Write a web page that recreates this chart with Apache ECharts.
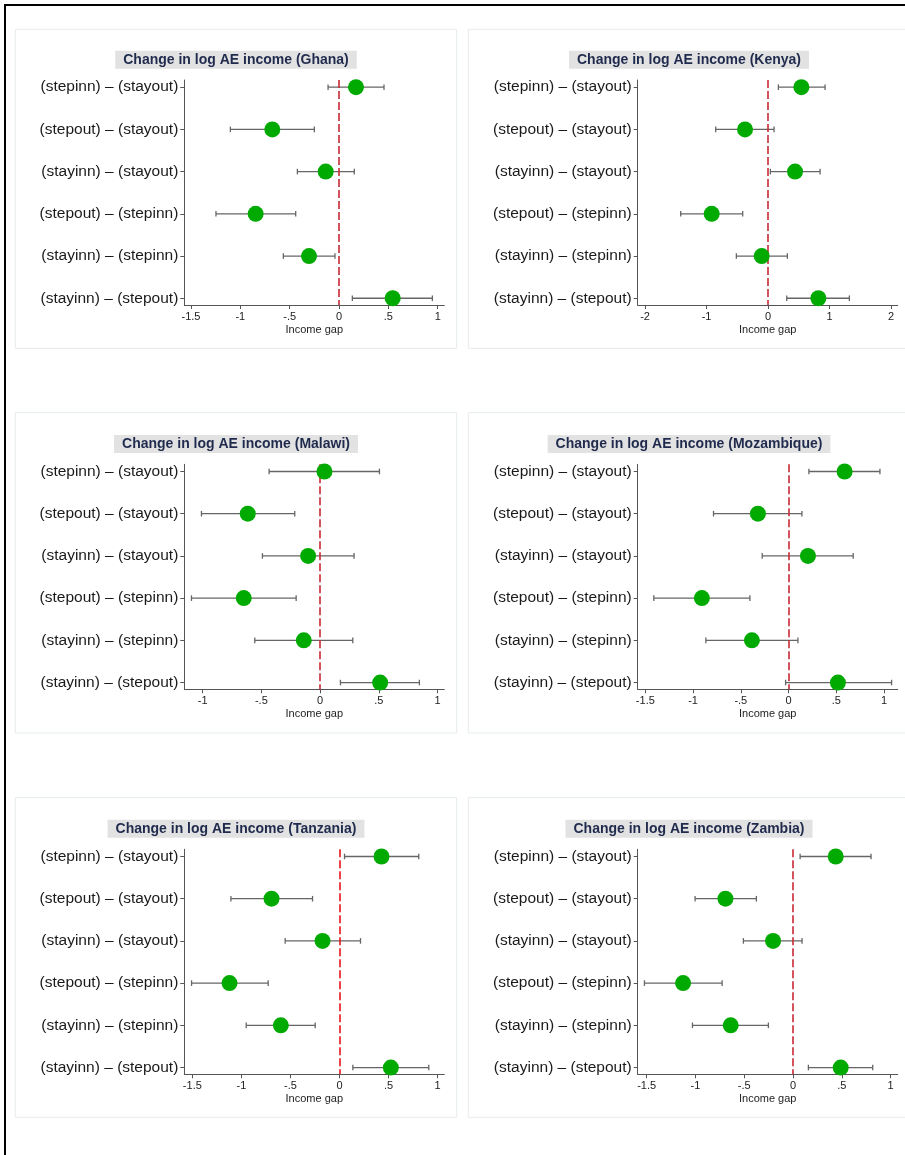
<!DOCTYPE html>
<html>
<head>
<meta charset="utf-8">
<script src="https://cdn.jsdelivr.net/npm/echarts@6/dist/echarts.min.js"></script>
<style>
html,body{margin:0;padding:0;background:#fff;}
#c{width:905px;height:1155px;}
</style>
</head>
<body>
<div id="c"></div>
<script>
// ---- data ----
const categories = [
  '(stepinn) \u2013 (stayout)',
  '(stepout) \u2013 (stayout)',
  '(stayinn) \u2013 (stayout)',
  '(stepout) \u2013 (stepinn)',
  '(stayinn) \u2013 (stepinn)',
  '(stayinn) \u2013 (stepout)'
];
const countries = ['Ghana', 'Kenya', 'Malawi', 'Mozambique', 'Tanzania', 'Zambia'];

const ghanaEst = [0.172, -0.676, -0.135, -0.845, -0.304, 0.544];
const ghanaLo  = [-0.111, -1.101, -0.422, -1.247, -0.564, 0.135];
const ghanaHi  = [0.456, -0.250, 0.155, -0.439, -0.041, 0.946];

const kenyaEst = [0.542, -0.374, 0.439, -0.916, -0.103, 0.818];
const kenyaLo  = [0.168, -0.851, 0.038, -1.420, -0.515, 0.304];
const kenyaHi  = [0.927, 0.098, 0.846, -0.412, 0.314, 1.322];

const malawiEst = [0.037, -0.616, -0.102, -0.650, -0.139, 0.511];
const malawiLo  = [-0.434, -1.010, -0.491, -1.095, -0.556, 0.173];
const malawiHi  = [0.505, -0.216, 0.289, -0.204, 0.278, 0.845];

const mozambiqueEst = [0.587, -0.321, 0.203, -0.908, -0.384, 0.517];
const mozambiqueLo  = [0.213, -0.786, -0.276, -1.411, -0.866, -0.031];
const mozambiqueHi  = [0.957, 0.140, 0.677, -0.405, 0.098, 1.079];

const tanzaniaEst = [0.428, -0.693, -0.173, -1.121, -0.598, 0.523];
const tanzaniaLo  = [0.051, -1.107, -0.554, -1.508, -0.951, 0.136];
const tanzaniaHi  = [0.808, -0.275, 0.214, -0.727, -0.248, 0.910];

const zambiaEst = [0.437, -0.693, -0.205, -1.127, -0.639, 0.488];
const zambiaLo  = [0.072, -1.004, -0.509, -1.523, -1.031, 0.157];
const zambiaHi  = [0.799, -0.376, 0.092, -0.727, -0.253, 0.816];

const ticks15 = [-1.5, -1, -0.5, 0, 0.5, 1];
const ticks2  = [-2, -1, 0, 1, 2];
const ticks1  = [-1, -0.5, 0, 0.5, 1];
const rowPositions = [1, 2, 3, 4, 5, 6];

// ---- layout / style ----
const FONT = '"Liberation Sans", Arial, sans-serif';
const panels = [
  {est: ghanaEst, lo: ghanaLo, hi: ghanaHi, ticks: ticks15, min: -1.568, max: 1.067, col: 0, row: 0, red: '#c92a36'},
  {est: kenyaEst, lo: kenyaLo, hi: kenyaHi, ticks: ticks2, min: -2.119, max: 2.108, col: 1, row: 0, red: '#c92a36'},
  {est: malawiEst, lo: malawiLo, hi: malawiHi, ticks: ticks1, min: -1.156, max: 1.057, col: 0, row: 1, red: '#c92a36'},
  {est: mozambiqueEst, lo: mozambiqueLo, hi: mozambiqueHi, ticks: ticks15, min: -1.58, max: 1.143, col: 1, row: 1, red: '#c92a36'},
  {est: tanzaniaEst, lo: tanzaniaLo, hi: tanzaniaHi, ticks: ticks15, min: -1.582, max: 1.068, col: 0, row: 2, red: '#e8141c'},
  {est: zambiaEst, lo: zambiaLo, hi: zambiaHi, ticks: ticks15, min: -1.592, max: 1.072, col: 1, row: 2, red: '#c92a36'}
];
const gridLeft = [184.3, 637.7];
const gridTop = [80, 464.3, 849.3];
const panelTop = [29.3, 412.7, 797.7];
const panelBottom = [348.3, 733, 1117.3];
const panelLeft = [15.3, 468.3];
const titleCx = [236, 689];
const titleCy = [59.7, 443.9, 828.7];

function fmtTick(v) {
  let s = String(v);
  s = s.replace('0.', '.');
  return s;
}

const grids = [], xAxes = [], yAxes = [], series = [], graphics = [];

graphics.push({type: 'rect', shape: {x: 5, y: 5, width: 960, height: 1220}, style: {fill: 'none', stroke: '#000', lineWidth: 2}, z: 10});

panels.forEach((p, k) => {
  grids.push({left: gridLeft[p.col], top: gridTop[p.row], width: 260, height: 225, outerBoundsMode: 'none'});
  xAxes.push({
    type: 'value', gridIndex: k, min: p.min, max: p.max,
    splitLine: {show: false},
    axisLine: {show: true, onZero: false, lineStyle: {color: '#555', width: 1}},
    axisTick: {show: true, length: 4, customValues: p.ticks, lineStyle: {color: '#555'}},
    axisLabel: {customValues: p.ticks, formatter: fmtTick, fontSize: 11, color: '#222', margin: 6, fontFamily: FONT},
    name: 'Income gap', nameLocation: 'middle', nameGap: 19,
    nameTextStyle: {fontSize: 11, color: '#222', fontFamily: FONT}
  });
  yAxes.push({
    type: 'value', gridIndex: k, min: 0.83, max: 6.16, inverse: true,
    splitLine: {show: false},
    axisLine: {show: true, onZero: false, lineStyle: {color: '#555', width: 1}},
    axisTick: {show: true, length: 4, customValues: rowPositions, lineStyle: {color: '#555'}},
    axisLabel: {customValues: rowPositions, formatter: v => categories[Math.round(v) - 1], fontSize: 15.5, color: '#1a1a1a', margin: 6, fontFamily: FONT}
  });
  const barData = p.lo.map((l, i) => [l, p.hi[i], rowPositions[i]]);
  series.push({
    type: 'custom', xAxisIndex: k, yAxisIndex: k, z: 2,
    encode: {x: [0, 1], y: 2},
    data: barData,
    renderItem: (params, api) => {
      const a = api.coord([api.value(0), api.value(2)]);
      const b = api.coord([api.value(1), api.value(2)]);
      const st = {stroke: '#666', lineWidth: 1.3};
      return {type: 'group', children: [
        {type: 'line', shape: {x1: a[0], y1: a[1], x2: b[0], y2: b[1]}, style: st},
        {type: 'line', shape: {x1: a[0], y1: a[1] - 2.8, x2: a[0], y2: a[1] + 2.8}, style: st},
        {type: 'line', shape: {x1: b[0], y1: b[1] - 2.8, x2: b[0], y2: b[1] + 2.8}, style: st}
      ]};
    },
    markLine: {
      silent: true, symbol: ['none', 'none'], label: {show: false},
      lineStyle: {color: p.red, type: [8, 3], width: 1.6},
      data: [{xAxis: 0}]
    }
  });
  series.push({
    type: 'scatter', xAxisIndex: k, yAxisIndex: k, z: 5,
    symbol: 'circle', symbolSize: 16,
    itemStyle: {color: '#00aa00', opacity: 1},
    data: p.est.map((e, i) => [e, rowPositions[i]])
  });
  graphics.push({type: 'rect', shape: {x: panelLeft[p.col], y: panelTop[p.row], width: p.col ? 460 : 441.4, height: panelBottom[p.row] - panelTop[p.row]},
    style: {fill: 'none', stroke: '#e6ecec', lineWidth: 1}, z: 0});
  graphics.push({type: 'text', x: titleCx[p.col], y: titleCy[p.row],
    style: {text: 'Change in log AE income (' + countries[k] + ')', align: 'center', verticalAlign: 'middle',
      font: 'bold 14px ' + FONT, fill: '#1f2a4d', backgroundColor: '#e2e2e2', padding: [2, 8, 2, 8]}, z: 5});
});

const chart = echarts.init(document.getElementById('c'));
chart.setOption({
  animation: false,
  backgroundColor: '#fff',
  grid: grids, xAxis: xAxes, yAxis: yAxes, series: series,
  graphic: graphics
});
</script>
</body>
</html>
